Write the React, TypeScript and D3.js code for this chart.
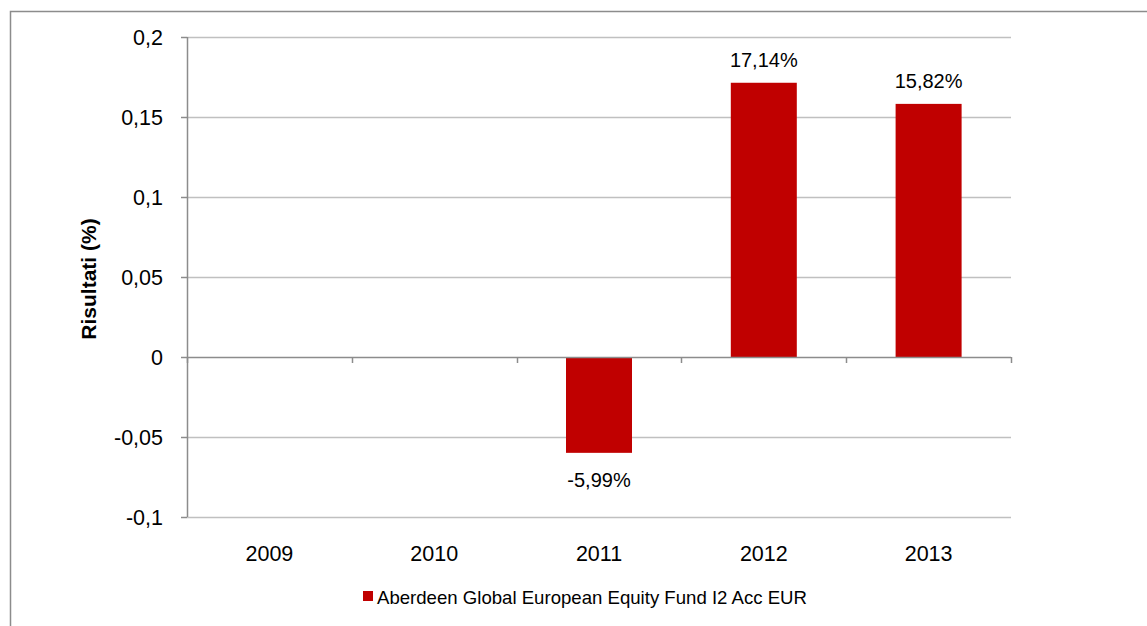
import React, { useEffect, useRef } from 'react';
import * as d3 from 'd3';

// Chart data
const years = ['2009', '2010', '2011', '2012', '2013'];
const returns: (number | null)[] = [null, null, -0.0599, 0.1714, 0.1582];
const returnLabels = ['', '', '-5,99%', '17,14%', '15,82%'];
const yTicks = [-0.1, -0.05, 0, 0.05, 0.1, 0.15, 0.2];
const seriesName = 'Aberdeen Global European Equity Fund I2 Acc EUR';

const W = 1147;
const H = 626;
const FONT = '"Liberation Sans", Arial, sans-serif';
const BAR = '#C00000';

const fmt = (v: number) => String(v).replace('.', ',');

export default function App() {
  const svgRef = useRef<SVGSVGElement>(null);

  useEffect(() => {
    if (!svgRef.current) return;
    const svg = d3.select(svgRef.current);
    svg.selectAll('*').remove();

    const left = 187, right = 1011, top = 37, bottom = 517;

    const x = d3.scaleBand<string>().domain(years).range([left, right]).paddingInner(0).paddingOuter(0);
    const y = d3.scaleLinear().domain([-0.1, 0.2]).range([bottom, top]);

    // outer frame
    svg.append('rect')
      .attr('x', 10.5).attr('y', 11.5)
      .attr('width', W + 20).attr('height', H + 20)
      .attr('fill', 'white').attr('stroke', '#8c8c8c').attr('stroke-width', 1.5);

    // gridlines
    svg.append('g')
      .selectAll('line')
      .data(yTicks.filter(t => t !== 0))
      .join('line')
      .attr('x1', left).attr('x2', right)
      .attr('y1', d => Math.round(y(d)) + 0.5).attr('y2', d => Math.round(y(d)) + 0.5)
      .attr('stroke', '#c0c0c0').attr('stroke-width', 1.5);

    // y axis line + ticks
    svg.append('line')
      .attr('x1', left + 0.5).attr('x2', left + 0.5)
      .attr('y1', top).attr('y2', bottom)
      .attr('stroke', '#8c8c8c').attr('stroke-width', 1.5);

    svg.append('g')
      .selectAll('line')
      .data(yTicks)
      .join('line')
      .attr('x1', left - 6).attr('x2', left)
      .attr('y1', d => Math.round(y(d)) + 0.5).attr('y2', d => Math.round(y(d)) + 0.5)
      .attr('stroke', '#8c8c8c').attr('stroke-width', 1.5);

    svg.append('g')
      .selectAll('text')
      .data(yTicks)
      .join('text')
      .attr('x', 163)
      .attr('y', d => y(d) + 7.5)
      .attr('text-anchor', 'end')
      .attr('font-family', FONT)
      .attr('font-size', 21.5)
      .attr('fill', '#000')
      .text(d => fmt(d));

    // bars
    const bw = 66;
    const data = years.map((yr, i) => ({ yr, v: returns[i], label: returnLabels[i] }));
    svg.append('g')
      .selectAll('rect')
      .data(data.filter(d => d.v !== null))
      .join('rect')
      .attr('x', d => x(d.yr)! + x.bandwidth() / 2 - bw / 2)
      .attr('width', bw)
      .attr('y', d => y(Math.max(0, d.v as number)))
      .attr('height', d => Math.abs(y(d.v as number) - y(0)))
      .attr('fill', BAR);

    // zero axis + category ticks
    svg.append('line')
      .attr('x1', left).attr('x2', right)
      .attr('y1', Math.round(y(0)) + 0.5).attr('y2', Math.round(y(0)) + 0.5)
      .attr('stroke', '#8c8c8c').attr('stroke-width', 1.5);

    const bounds = years.map(yr => x(yr)!).concat([right]);
    svg.append('g')
      .selectAll('line')
      .data(bounds)
      .join('line')
      .attr('x1', d => Math.round(d) + 0.5).attr('x2', d => Math.round(d) + 0.5)
      .attr('y1', y(0)).attr('y2', y(0) + 6)
      .attr('stroke', '#8c8c8c').attr('stroke-width', 1.5);

    // data labels
    svg.append('g')
      .selectAll('text')
      .data(data.filter(d => d.v !== null))
      .join('text')
      .attr('x', d => x(d.yr)! + x.bandwidth() / 2)
      .attr('y', d => (d.v as number) >= 0 ? y(d.v as number) - 16 : y(d.v as number) + 34)
      .attr('text-anchor', 'middle')
      .attr('font-family', FONT)
      .attr('font-size', 20)
      .attr('fill', '#000')
      .text(d => d.label);

    // category labels
    svg.append('g')
      .selectAll('text')
      .data(years)
      .join('text')
      .attr('x', d => x(d)! + x.bandwidth() / 2)
      .attr('y', 561)
      .attr('text-anchor', 'middle')
      .attr('font-family', FONT)
      .attr('font-size', 21.5)
      .attr('fill', '#000')
      .text(d => d);

    // y axis title
    svg.append('text')
      .attr('transform', `translate(96,279) rotate(-90)`)
      .attr('text-anchor', 'middle')
      .attr('font-family', FONT)
      .attr('font-size', 21)
      .attr('font-weight', 'bold')
      .attr('fill', '#000')
      .text('Risultati (%)');

    // legend
    svg.append('rect')
      .attr('x', 363).attr('y', 591).attr('width', 10).attr('height', 10)
      .attr('fill', BAR);
    svg.append('text')
      .attr('x', 377).attr('y', 604)
      .attr('font-family', FONT)
      .attr('font-size', 18.6)
      .attr('fill', '#000')
      .text(seriesName);
  }, []);

  return (
    <svg
      ref={svgRef}
      width={W}
      height={H}
      viewBox={`0 0 ${W} ${H}`}
      style={{ position: 'fixed', left: 0, top: 0, background: '#fff' }}
    />
  );
}
